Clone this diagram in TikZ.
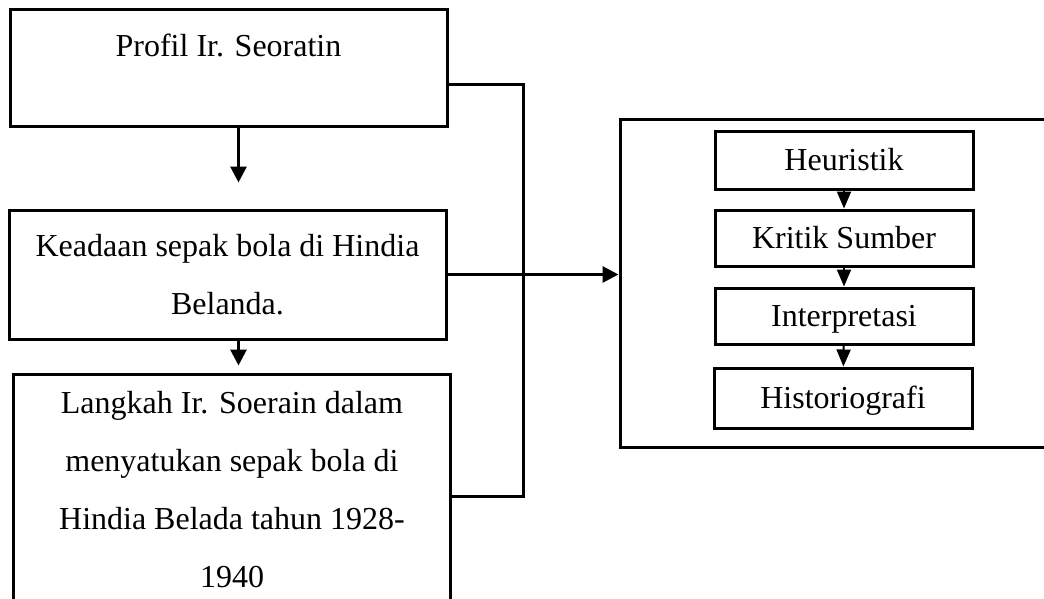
\documentclass[tikz,border=0pt]{standalone}
\usepackage{fontspec}
\setmainfont{Liberation Serif}
\usetikzlibrary{arrows.meta, positioning}
\tikzstyle{topic} = [rectangle, draw=black, line width=1.5pt, minimum width=218.5pt, align=center, font=\fontsize{16pt}{29pt}\selectfont]
\tikzstyle{frame} = [rectangle, draw=black, line width=1.5pt]
\tikzstyle{method} = [rectangle, draw=black, line width=1.5pt, minimum width=129pt, minimum height=28pt, text height=11pt, text depth=1pt, font=\fontsize{16pt}{19pt}\selectfont]
\tikzstyle{link} = [line width=1.5pt]
\tikzstyle{arrow} = [line width=1.5pt, -{Triangle[width=8pt,length=8pt]}]
\tikzstyle{smallarrow} = [line width=1pt, -{Triangle[width=7pt,length=8.5pt]}]

\begin{document}
\begin{tikzpicture}[x=0.5pt, y=-0.5pt]
  \useasboundingbox (0,0) rectangle (1044,599);
  \clip (0,0) rectangle (1044,599);

  % Left column
  \node (profil) [topic, minimum height=58.5pt] at (228.5,68.5) {Profil Ir. Seoratin\\[-14pt] \strut};
  \node (keadaan) [topic, minimum height=64.5pt, below=40pt of profil, xshift=-0.5pt] {Keadaan sepak bola di Hindia\\ Belanda.};
  \node (langkah) [topic, minimum height=116pt, below=16pt of keadaan, xshift=2.25pt] {Langkah Ir. Soerain dalam\\ menyatukan sepak bola di\\ Hindia Belada tahun 1928-\\ 1940};

  % Right frame with the method steps
  \node (metode) [frame, minimum width=245pt, minimum height=163.5pt] at (865,283.5) {};
  \node (heuristik) [method, minimum height=28.5pt] at (844,160.5) {Heuristik};
  \node (kritik) [method, below=9pt of heuristik] {Kritik Sumber};
  \node (interpretasi) [method, below=9.5pt of kritik] {Interpretasi};
  \node (historiografi) [method, minimum height=30pt, below=10.5pt of interpretasi, xshift=-0.5pt] {Historiografi};

  % Junction of the left column
  \coordinate (jtop) at (523,85);
  \coordinate (jbot) at (523,496);

  % Arrows down the left column
  \draw [arrow, shorten >=13pt] ([xshift=5pt]profil.south) -- ([xshift=5pt]profil.south |- keadaan.north);
  \draw [arrow, shorten >=3.5pt] ([xshift=5.5pt]keadaan.south) -- ([xshift=5.5pt]keadaan.south |- langkah.north);

  % Bracket and arrow to the right frame
  \draw [link] (profil.east |- jtop) -- (jtop) -- (jbot) -- (langkah.east |- jbot);
  \draw [arrow] (keadaan) -- (metode.west |- keadaan);

  % Arrows between the steps
  \draw [smallarrow] (heuristik) -- (kritik);
  \draw [smallarrow] (kritik) -- (interpretasi);
  \draw [smallarrow] (interpretasi) -- (historiografi);

\end{tikzpicture}
\end{document}
